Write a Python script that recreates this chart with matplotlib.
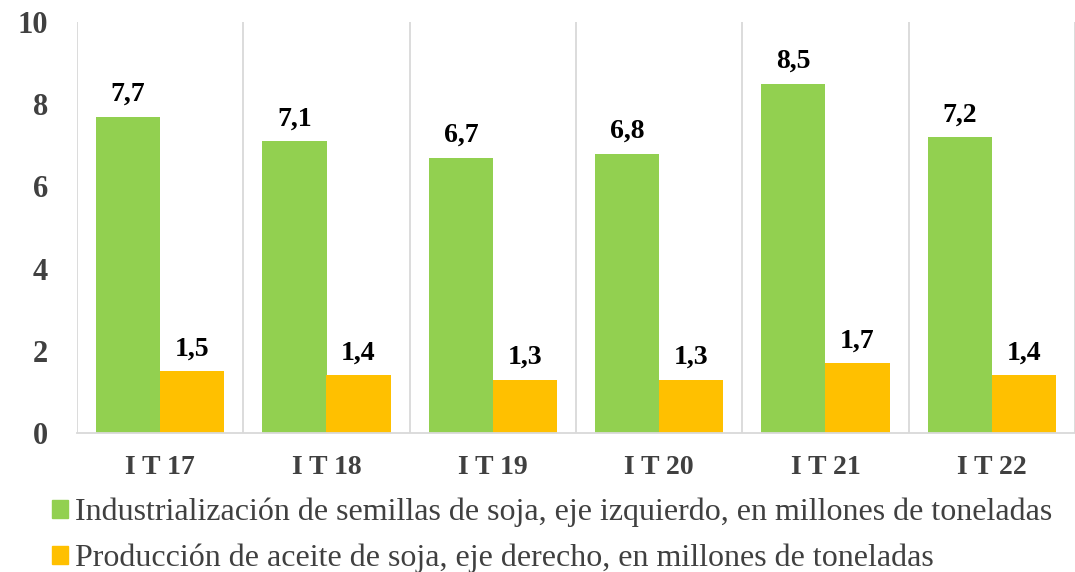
import numpy as np
import matplotlib
matplotlib.use("Agg")
import matplotlib.pyplot as plt
from matplotlib.patches import Patch

plt.rcParams['font.family'] = ['Liberation Serif', 'DejaVu Serif']

categories = ['I T 17', 'I T 18', 'I T 19', 'I T 20', 'I T 21', 'I T 22']
semillas = [7.7, 7.1, 6.7, 6.8, 8.5, 7.2]
aceite = [1.5, 1.4, 1.3, 1.3, 1.7, 1.4]
yticks = [0, 2, 4, 6, 8, 10]
legend_labels = ['Industrialización de semillas de soja, eje izquierdo, en millones de toneladas',
                 'Producción de aceite de soja, eje derecho, en millones de toneladas']

green = '#92D050'
orange = '#FFC000'
grey_txt = '#404040'

fig = plt.figure(figsize=(10.75, 5.72), dpi=100)
ax = fig.add_axes([77 / 1075, 1 - 433 / 572, (1075 - 77) / 1075, (433 - 22) / 572])

x = np.arange(len(categories))
w = 0.385
b1 = ax.bar(x - w / 2, semillas, w, color=green, zorder=2)
b2 = ax.bar(x + w / 2, aceite, w, color=orange, zorder=2)

for bars, vals in ((b1, semillas), (b2, aceite)):
    for r, v in zip(bars, vals):
        ax.annotate(f'{v:.1f}'.replace('.', ','), (r.get_x() + r.get_width() / 2, v),
                    xytext=(0, 7), textcoords='offset points', ha='center', va='bottom',
                    fontsize=20, fontweight='bold', color='black')

ax.set_xlim(-0.5, len(categories) - 0.5)
ax.set_ylim(0, 10)
ax.set_yticks(yticks)
ax.set_yticklabels([str(t) for t in yticks], fontsize=22, fontweight='bold', color=grey_txt)
ax.set_xticks(x)
ax.set_xticklabels(categories, fontsize=20, fontweight='bold', color=grey_txt)
ax.tick_params(axis='y', length=0, pad=21)
ax.tick_params(axis='x', length=0, pad=16)

# vertical separators between categories
for b in np.arange(-0.5, len(categories), 1.0):
    ax.axvline(b, color='#D9D9D9', lw=1.3, zorder=1)

for s in ['top', 'right', 'left']:
    ax.spines[s].set_visible(False)
ax.spines['bottom'].set_color('#D9D9D9')
ax.spines['bottom'].set_linewidth(1.3)

handles = [Patch(color=green), Patch(color=orange)]
fig.legend(handles, legend_labels, loc='upper left', bbox_to_anchor=(0.048, 0.13),
           frameon=False, fontsize=23, labelcolor=grey_txt, handlelength=0.5,
           handleheight=0.5, handletextpad=0.22, labelspacing=0.52, borderaxespad=0,
           borderpad=0)

fig.savefig('out.png', dpi=100)
